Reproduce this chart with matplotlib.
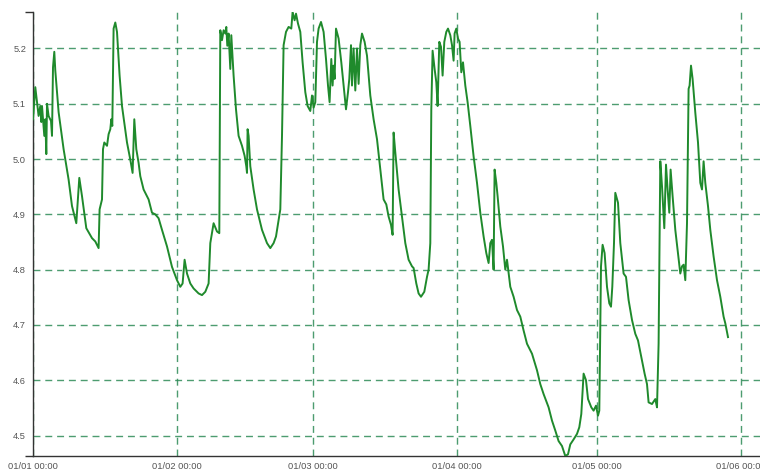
import numpy as np
import matplotlib
matplotlib.use("Agg")
import matplotlib.pyplot as plt
from matplotlib.ticker import FixedLocator

# sample index (10 min steps, some gaps) and reading
idx = [0, 2.3, 5.6, 7.3, 8.3, 9, 11.3, 12.3, 13.3, 14, 15.6, 18, 19, 20, 21.3, 22.3,
       25.6, 30.6, 35.6, 39, 43.3, 46.3, 49, 53.3, 59, 62.3, 65.6, 66.6, 69, 70,
       71.3, 74, 75.6, 77.3, 78.3, 79.3, 80.6, 82.3, 84, 86.6, 89, 91.3, 94, 97.3,
       99.6, 101.3, 103.3, 105.6, 107.3, 110.6, 115.6, 119, 122.3, 125.6, 129, 134,
       139, 144, 147.3, 149.6, 151.6, 154, 157.3, 160.6, 165.6, 169, 172.3, 175.6,
       177.3, 180.6, 184, 186.3, 187.3, 189, 190.6, 192.3, 193.3, 194.3, 195.6,
       197.3, 198.3, 200.6, 203, 205.6, 209, 211.6, 213.3, 214, 214.6, 215.6, 217.3,
       220.6, 224, 229, 234, 237.3, 240.6, 243, 245.6, 247.3, 249, 250.6, 253,
       255.6, 258.3, 259.6, 261.6, 263, 265, 267.3, 269.6, 272.3, 274.6, 277.3, 279,
       280.6, 282.3, 284, 285.6, 288, 290.6, 293, 295, 296.6, 298.3, 299.6, 300.6,
       301.6, 303, 305.6, 308.3, 310.6, 313, 315, 316.3, 318, 319, 320.6, 322.3, 324,
       325.6, 327.3, 329, 331.6, 334, 337.3, 340.6, 344, 347.3, 350.6, 353.3, 355.6,
       358, 359.6, 360.6, 362.3, 365.6, 369, 372.3, 375.6, 379, 380.6, 383.3, 385.6,
       388, 391.3, 394, 395.6, 397.3, 398.3, 399.6, 401.6, 403.3, 404.6, 406.3, 408,
       409.6, 411.3, 413.3, 415, 417.3, 419, 420.6, 421.6, 423.3, 425, 426.6, 428.3,
       430, 432.3, 434.6, 437.3, 440.6, 444, 447.3, 450.6, 453.3, 455.6, 457.3, 459,
       460.6, 461.6, 463.3, 464.6, 467.3, 470, 472.3, 474, 477.3, 480.6, 484, 487.3,
       490.6, 494, 499, 504, 507.3, 510.6, 515.6, 519, 522.3, 525.6, 529, 532.3, 535,
       537.3, 540.6, 544, 546.3, 548.3, 550.6, 553, 555, 558.3, 560.6, 563, 565,
       566.3, 568, 569.6, 571.6, 574, 576.3, 578, 579.3, 581, 582.3, 585, 587.3,
       590.6, 593, 595.6, 599, 602.3, 605, 608.3, 611.6, 614, 615.6, 619, 622.3, 624,
       625.6, 627.3, 629, 631.3, 633, 634.6, 636.3, 637.6, 639.6, 642.3, 645, 647.3,
       649, 650.6, 652.3, 654, 655.6, 656.6, 658, 659.6, 662.3, 665, 667.3, 669,
       670.6, 672.3, 675, 677.3, 680.6, 684, 687.3, 690.6, 692.3, 695]
vals = [5.072, 5.130, 5.078, 5.096, 5.067, 5.096, 5.042, 5.072, 5.009, 5.100, 5.078,
        5.069, 5.042, 5.166, 5.194, 5.160, 5.085, 5.018, 4.963, 4.915, 4.884, 4.966,
        4.933, 4.875, 4.857, 4.851, 4.839, 4.909, 4.927, 5.018, 5.030, 5.024, 5.045,
        5.054, 5.072, 5.060, 5.236, 5.247, 5.230, 5.151, 5.096, 5.066, 5.030, 4.999,
        4.975, 5.072, 5.018, 4.993, 4.969, 4.945, 4.927, 4.903, 4.900, 4.893, 4.872,
        4.842, 4.805, 4.781, 4.769, 4.775, 4.818, 4.793, 4.775, 4.766, 4.757, 4.754,
        4.760, 4.775, 4.848, 4.884, 4.869, 4.866, 5.233, 5.215, 5.233, 5.227, 5.239,
        5.205, 5.227, 5.163, 5.224, 5.151, 5.090, 5.042, 5.024, 5.006, 4.987, 4.975,
        5.054, 5.042, 4.987, 4.945, 4.909, 4.872, 4.848, 4.839, 4.848, 4.860, 4.890,
        4.909, 5.042, 5.206, 5.230, 5.239, 5.236, 5.266, 5.251, 5.263, 5.245, 5.230,
        5.175, 5.121, 5.096, 5.087, 5.115, 5.093, 5.103, 5.212, 5.236, 5.248, 5.230,
        5.181, 5.133, 5.103, 5.181, 5.133, 5.169, 5.145, 5.236, 5.218, 5.175, 5.133,
        5.090, 5.121, 5.145, 5.206, 5.133, 5.200, 5.124, 5.200, 5.136, 5.206, 5.227,
        5.212, 5.187, 5.115, 5.072, 5.036, 4.981, 4.927, 4.918, 4.896, 4.881, 4.863,
        5.048, 5.012, 4.945, 4.896, 4.848, 4.818, 4.806, 4.803, 4.775, 4.757, 4.751,
        4.760, 4.787, 4.800, 4.848, 5.090, 5.196, 5.163, 5.139, 5.096, 5.212, 5.203,
        5.151, 5.212, 5.230, 5.236, 5.224, 5.206, 5.178, 5.227, 5.236, 5.218, 5.212,
        5.157, 5.175, 5.133, 5.103, 5.060, 5.005, 4.957, 4.903, 4.860, 4.830, 4.812,
        4.848, 4.854, 4.800, 4.981, 4.957, 4.933, 4.878, 4.842, 4.800, 4.818, 4.769,
        4.751, 4.727, 4.715, 4.690, 4.666, 4.648, 4.618, 4.593, 4.575, 4.551, 4.527,
        4.509, 4.490, 4.481, 4.463, 4.466, 4.484, 4.493, 4.503, 4.515, 4.539, 4.612,
        4.600, 4.566, 4.551, 4.545, 4.554, 4.536, 4.545, 4.806, 4.845, 4.830, 4.769,
        4.739, 4.733, 4.769, 4.848, 4.939, 4.921, 4.848, 4.793, 4.787, 4.745, 4.709,
        4.684, 4.672, 4.642, 4.612, 4.593, 4.560, 4.557, 4.566, 4.551, 4.666, 4.996,
        4.951, 4.875, 4.990, 4.945, 4.903, 4.981, 4.933, 4.872, 4.830, 4.793, 4.806,
        4.809, 4.781, 4.884, 5.127, 5.133, 5.169, 5.145, 5.084, 5.030, 4.957, 4.945,
        4.996, 4.957, 4.915, 4.872, 4.824, 4.781, 4.751, 4.715, 4.703, 4.678]

day_pos = [0, 144, 280, 424, 564, 708]
day_labels = ["01/01 00:00", "01/02 00:00", "01/03 00:00",
              "01/04 00:00", "01/05 00:00", "01/06 00:00"]
y_ticks = [4.5, 4.6, 4.7, 4.8, 4.9, 5.0, 5.1, 5.2]

plt.rcParams['font.family'] = ['Liberation Sans', 'DejaVu Sans']

fig = plt.figure(figsize=(7.6, 4.7), dpi=100)
ax = fig.add_axes([33 / 760, 14 / 470, 727 / 760, 444 / 470])

ax.plot(idx, vals, color='#1f8a2c', lw=1.4, zorder=3)

ymin, ymax = min(vals), max(vals)
ax.set_ylim(ymin, ymax)
ax.set_xlim(0, 727)

ax.set_xticks(day_pos)
ax.set_xticklabels(day_labels)
ax.set_yticks(y_ticks)
ax.set_yticklabels(["%.1f" % t for t in y_ticks])
ax.tick_params(axis='both', length=0, labelsize=6.7, colors='#555555')
ax.tick_params(axis='x', pad=4)
ax.tick_params(axis='y', pad=5)

# end caps on the axis lines
ax.yaxis.set_minor_locator(FixedLocator([ymin, ymax]))
ax.xaxis.set_minor_locator(FixedLocator([0]))
ax.tick_params(which='minor', length=6, width=1, color='#333333', direction='out')

ax.grid(True, which='major', color='#2e8b57', linestyle=(0, (5, 3.5)), lw=1, alpha=0.85)
ax.set_axisbelow(True)

for s in ['top', 'right']:
    ax.spines[s].set_visible(False)
for s in ['left', 'bottom']:
    ax.spines[s].set_color('#333333')
    ax.spines[s].set_linewidth(1)

fig.savefig("out.png", dpi=100)
